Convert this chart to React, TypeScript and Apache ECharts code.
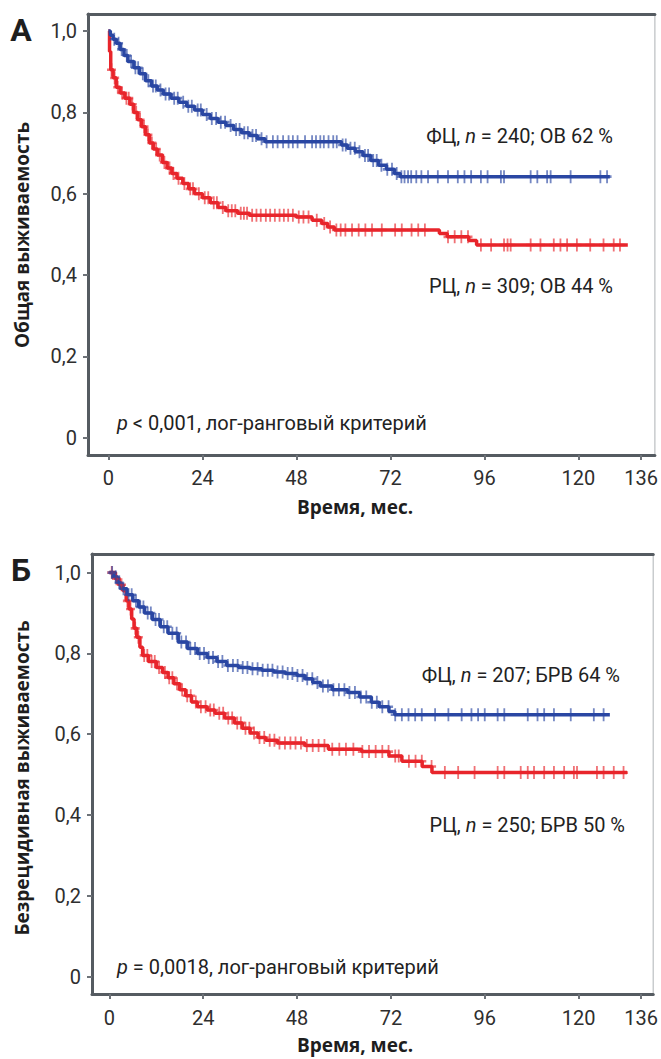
import React, { useEffect, useRef } from "react";
import * as echarts from "echarts";

// ---- Data ----
const X_TICKS = [0, 24, 48, 72, 96, 120, 136];
const Y_TICKS = [0, 0.2, 0.4, 0.6, 0.8, 1.0];

// Panel A: overall survival (time in months, survival)
const A_FC_T = [0, 0.5, 1.2, 2, 3, 4, 5, 6.5, 8, 9.5, 11, 12.5, 14, 16, 18, 20, 22, 24, 26, 28, 30, 32, 34, 36, 38, 40, 59.5, 61, 63, 65, 67, 69, 71, 73, 74.5, 128];
const A_FC_S = [1.0, 0.99, 0.98, 0.97, 0.955, 0.94, 0.925, 0.91, 0.895, 0.878, 0.865, 0.855, 0.845, 0.835, 0.825, 0.815, 0.806, 0.795, 0.785, 0.776, 0.768, 0.758, 0.75, 0.743, 0.735, 0.728, 0.72, 0.712, 0.703, 0.694, 0.682, 0.67, 0.66, 0.65, 0.642, 0.642];
const A_FC_CENS = [1.5, 2.6, 3.4, 4.7, 5.8, 6.9, 7.6, 8.8, 10.2, 11.4, 12.1, 13.3, 14.6, 15.5, 16.8, 17.7, 19.1, 20.4, 21.3, 22.8, 23.6, 25.1, 26.4, 27.5, 28.7, 29.8, 31.2, 32.6, 33.5, 34.7, 35.6, 36.8, 37.7, 39.1, 40.4, 42, 43.2, 44.6, 46, 47.1, 48.3, 50.2, 52, 53, 54.1, 55, 56.2, 57.4, 58.3, 59.8, 60.6, 61.8, 62.9, 64.1, 65.5, 66.3, 67.6, 68.5, 69.7, 71.2, 72.4, 73.6, 74.8, 75.6, 76.5, 77.3, 78.6, 79.9, 81.6, 84.1, 86.7, 89.2, 90.9, 92.6, 95.1, 96.8, 100.2, 101, 107.8, 109.5, 112, 112.9, 118, 125.6, 127.3];

const A_RC_T = [0, 0.3, 0.6, 1.2, 2, 3, 4.2, 5.5, 6.5, 7.5, 8.5, 9.5, 10.5, 11.5, 12.5, 13.8, 15, 16.2, 17.5, 19, 20.5, 22, 24, 26, 28, 30, 33, 36, 48, 52, 54.5, 56, 57.7, 84.5, 86.5, 92, 94, 132.6];
const A_RC_S = [1.0, 0.95, 0.905, 0.885, 0.862, 0.848, 0.835, 0.82, 0.8, 0.782, 0.765, 0.745, 0.725, 0.71, 0.695, 0.677, 0.663, 0.65, 0.638, 0.625, 0.612, 0.6, 0.59, 0.578, 0.566, 0.558, 0.552, 0.547, 0.543, 0.535, 0.527, 0.518, 0.511, 0.502, 0.494, 0.485, 0.474, 0.474];
const A_RC_CENS = [0.8, 1.6, 2.4, 3.5, 4.6, 5.2, 6.1, 7.1, 8.1, 9.1, 10.1, 11.1, 12.2, 13.1, 14.3, 15.6, 16.6, 17.9, 19.4, 20.9, 21.6, 23.1, 24.6, 25.5, 26.9, 27.7, 29.2, 30.6, 31.5, 32.4, 33.8, 34.6, 35.4, 36.7, 37.8, 38.9, 40.2, 41.3, 42.5, 43.7, 44.8, 45.9, 47.1, 48.6, 49.8, 51.1, 53.2, 55.1, 56.6, 58.2, 59.3, 60.5, 62.2, 63.9, 65.6, 67.3, 69.8, 73.2, 74.9, 77.4, 79.1, 80.8, 86.7, 88.4, 90.1, 91.8, 95.1, 97.7, 101, 101.9, 102.7, 107.8, 110.3, 113.7, 115.4, 117.1, 119.6, 123, 126.4, 129, 130.6];

// Panel B: recurrence-free survival
const B_FC_T = [0, 1, 2, 3, 4.5, 6, 7.5, 9, 11, 13, 15, 17.6, 20, 22.5, 25, 27.5, 30, 33, 36, 39, 42, 45, 48, 50, 52, 54, 57, 61, 64, 67, 69, 71.5, 73, 128];
const B_FC_S = [1.0, 0.99, 0.975, 0.96, 0.945, 0.93, 0.915, 0.9, 0.884, 0.866, 0.85, 0.828, 0.812, 0.8, 0.79, 0.78, 0.77, 0.765, 0.762, 0.758, 0.754, 0.75, 0.745, 0.737, 0.728, 0.719, 0.71, 0.703, 0.692, 0.679, 0.668, 0.656, 0.648, 0.648];
const B_FC_CENS = [0.7, 1.6, 2.5, 3.6, 4.9, 5.7, 6.8, 7.9, 8.7, 9.8, 10.6, 11.8, 12.7, 13.9, 14.8, 16.1, 17.2, 18.4, 19.6, 20.7, 21.9, 23.1, 24.2, 25.4, 26.5, 27.8, 28.9, 30.3, 31.6, 32.8, 34.1, 35.3, 36.6, 37.9, 39.2, 40.5, 41.7, 43, 44.3, 45.6, 46.8, 48.1, 49.4, 50.6, 51.9, 53.2, 54.6, 55.9, 57.3, 58.7, 60.1, 61.4, 62.8, 64.3, 65.7, 67.1, 68.4, 69.8, 71.4, 73.1, 74.8, 76.5, 78.2, 79.9, 83.3, 86.7, 90.1, 92.6, 94.3, 96, 99.3, 101, 107, 109.5, 111.2, 113.7, 118, 123.9, 126.4];

const B_RC_T = [0, 1.5, 2.5, 3.5, 4.3, 5, 5.7, 6.3, 7, 7.8, 8.5, 10, 12, 13.6, 15, 16.5, 18, 19.5, 21, 22.5, 25, 27, 29.5, 32, 34, 36, 38, 40, 43, 50, 56, 64.5, 71.5, 74.8, 80, 82.5, 132.4];
const B_RC_S = [1.0, 0.985, 0.97, 0.955, 0.93, 0.91, 0.885, 0.862, 0.84, 0.815, 0.795, 0.78, 0.765, 0.753, 0.74, 0.725, 0.71, 0.695, 0.68, 0.668, 0.66, 0.652, 0.64, 0.628, 0.615, 0.603, 0.592, 0.585, 0.578, 0.572, 0.563, 0.557, 0.546, 0.533, 0.52, 0.505, 0.505];
const B_RC_CENS = [0.6, 1.8, 3.1, 4.6, 5.4, 6.6, 7.4, 8.9, 9.7, 10.8, 11.6, 12.7, 14.2, 15.3, 16.1, 17.3, 18.6, 19.9, 20.8, 22.1, 23.4, 24.6, 25.8, 26.7, 28.1, 29.1, 30.4, 31.4, 32.7, 33.6, 34.8, 35.8, 37, 38.4, 39.6, 41, 42.2, 43.5, 44.9, 46.3, 47.6, 49, 50.5, 52, 53.5, 55, 57, 58.8, 60.5, 62.4, 64.7, 66.4, 68.1, 69.8, 71.4, 73.1, 74, 76.6, 78.3, 79.9, 82.4, 85.8, 89.2, 93.4, 99.3, 101, 105.2, 107, 108.6, 111.2, 113.7, 116.3, 118.8, 119.6, 124.7, 126.4, 129, 131.5];

const BLUE = "#2a47a3";
const RED = "#e8252b";
const FONT = 'Roboto, "Noto Sans", sans-serif';
const BFONT = '"Open Sans", "Noto Sans", sans-serif';
const PLUS = "path://M4 0H6V4H10V6H6V10H4V6H0V4H4Z";

function pairs(t: number[], s: number[]) {
  return t.map((v, i) => [v, s[i]]);
}
function stepAt(t: number[], s: number[], x: number) {
  let v = s[0];
  for (let i = 0; i < t.length; i++) {
    if (t[i] <= x) v = s[i];
  }
  return v;
}
function censored(t: number[], s: number[], c: number[]) {
  return c.map((x) => [x, stepAt(t, s, x)]);
}

const yFmt = (v: number) => (Math.abs(v) < 1e-9 ? "0" : v.toFixed(1).replace(".", ","));

export default function App() {
  const ref = useRef<HTMLDivElement>(null);
  useEffect(() => {
    if (!ref.current) return;
    const chart = echarts.init(ref.current, undefined, { renderer: "svg" });

    const axisLine = { show: true, onZero: false, lineStyle: { color: "#555b61", width: 3 } };
    const tick = { show: true, inside: false, length: 5, lineStyle: { color: "#6d7278", width: 2 } };
    const lbl = { color: "#2e2e2e", fontSize: 20, fontFamily: FONT };

    const xAx = (gi: number, min: number, max: number, margin: number) => ({
      type: "value",
      gridIndex: gi,
      min,
      max,
      position: "bottom",
      axisLine,
      axisTick: { ...tick, customValues: X_TICKS },
      axisLabel: { ...lbl, margin, customValues: X_TICKS },
      splitLine: { show: false },
    });
    const xTop = (gi: number, min: number, max: number) => ({
      type: "value",
      gridIndex: gi,
      min,
      max,
      position: "top",
      axisLine,
      axisTick: { show: false },
      axisLabel: { show: false },
      splitLine: { show: false },
    });
    const yAx = (gi: number, min: number, max: number) => ({
      type: "value",
      gridIndex: gi,
      min,
      max,
      axisLine,
      axisTick: { ...tick, customValues: Y_TICKS },
      axisLabel: { ...lbl, margin: 11, customValues: Y_TICKS, formatter: yFmt },
      splitLine: { show: false },
    });

    const lineS = (xi: number, t: number[], s: number[], color: string) => ({
      type: "line",
      xAxisIndex: xi,
      yAxisIndex: xi,
      step: "end",
      showSymbol: false,
      data: pairs(t, s),
      lineStyle: { color, width: 3.5 },
      z: 3,
    });
    const censS = (xi: number, t: number[], s: number[], c: number[], color: string) => ({
      type: "scatter",
      xAxisIndex: xi,
      yAxisIndex: xi,
      symbol: PLUS,
      symbolSize: [9, 13],
      data: censored(t, s, c),
      itemStyle: { color, opacity: 0.65 },
      z: 4,
    });

    const rich = {
      a: { fontSize: 20, fontFamily: FONT, color: "#222" },
      i: { fontSize: 20, fontFamily: FONT, fontStyle: "italic", color: "#222" },
    };
    const txt = (x: number, y: number, text: string, align = "left") => ({
      type: "text",
      x,
      y,
      style: { text, rich, align, verticalAlign: "middle", fill: "#222" },
    });
    const bold = (x: number, y: number, text: string, size: number, rot = 0, family = BFONT) => ({
      type: "text",
      x,
      y,
      rotation: rot,
      style: {
        text,
        fontSize: size,
        fontWeight: "bold",
        fontFamily: family,
        fill: "#1e1e1e",
        align: "center",
        verticalAlign: "middle",
      },
    });

    chart.setOption({
      animation: false,
      backgroundColor: "#fff",
      grid: [
        { left: 88, top: 14, width: 570, height: 441, show: true, borderColor: "#c9ccce", borderWidth: 1.5 },
        { left: 92, top: 554, width: 565, height: 440, show: true, borderColor: "#c9ccce", borderWidth: 1.5 },
      ],
      xAxis: [xAx(0, -5.2, 139.5, 13), xAx(1, -4.45, 139.1, 14), xTop(0, -5.2, 139.5), xTop(1, -4.45, 139.1)],
      yAxis: [yAx(0, -0.0425, 1.042), yAx(1, -0.043, 1.046)],
      series: [
        lineS(0, A_RC_T, A_RC_S, RED),
        censS(0, A_RC_T, A_RC_S, A_RC_CENS, RED),
        lineS(0, A_FC_T, A_FC_S, BLUE),
        censS(0, A_FC_T, A_FC_S, A_FC_CENS, BLUE),
        lineS(1, B_RC_T, B_RC_S, RED),
        censS(1, B_RC_T, B_RC_S, B_RC_CENS, RED),
        lineS(1, B_FC_T, B_FC_S, BLUE),
        censS(1, B_FC_T, B_FC_S, B_FC_CENS, BLUE),
      ],
      graphic: [
        bold(21, 30, "А", 32, 0, FONT),
        bold(21, 570, "Б", 32, 0, FONT),
        bold(22, 235, "Общая выживаемость", 19, Math.PI / 2),
        bold(22, 778, "Безрецидивная выживаемость", 19, Math.PI / 2),
        bold(355, 507, "Время, мес.", 19),
        bold(355, 1045, "Время, мес.", 19),
        txt(613, 136, "{a|ФЦ, }{i|n}{a| = 240; ОВ 62 %}", "right"),
        txt(613, 286, "{a|РЦ, }{i|n}{a| = 309; ОВ 44 %}", "right"),
        txt(117, 423, "{i|p}{a| < 0,001, лог-ранговый критерий}"),
        txt(620, 675, "{a|ФЦ, }{i|n}{a| = 207; БРВ 64 %}", "right"),
        txt(625, 825, "{a|РЦ, }{i|n}{a| = 250; БРВ 50 %}", "right"),
        txt(117, 967, "{i|p}{a| = 0,0018, лог-ранговый критерий}"),
      ],
    });
    return () => chart.dispose();
  }, []);
  return (
    <div
      ref={ref}
      style={{ position: "fixed", left: 0, top: 0, width: 661, height: 1059 }}
    />
  );
}
